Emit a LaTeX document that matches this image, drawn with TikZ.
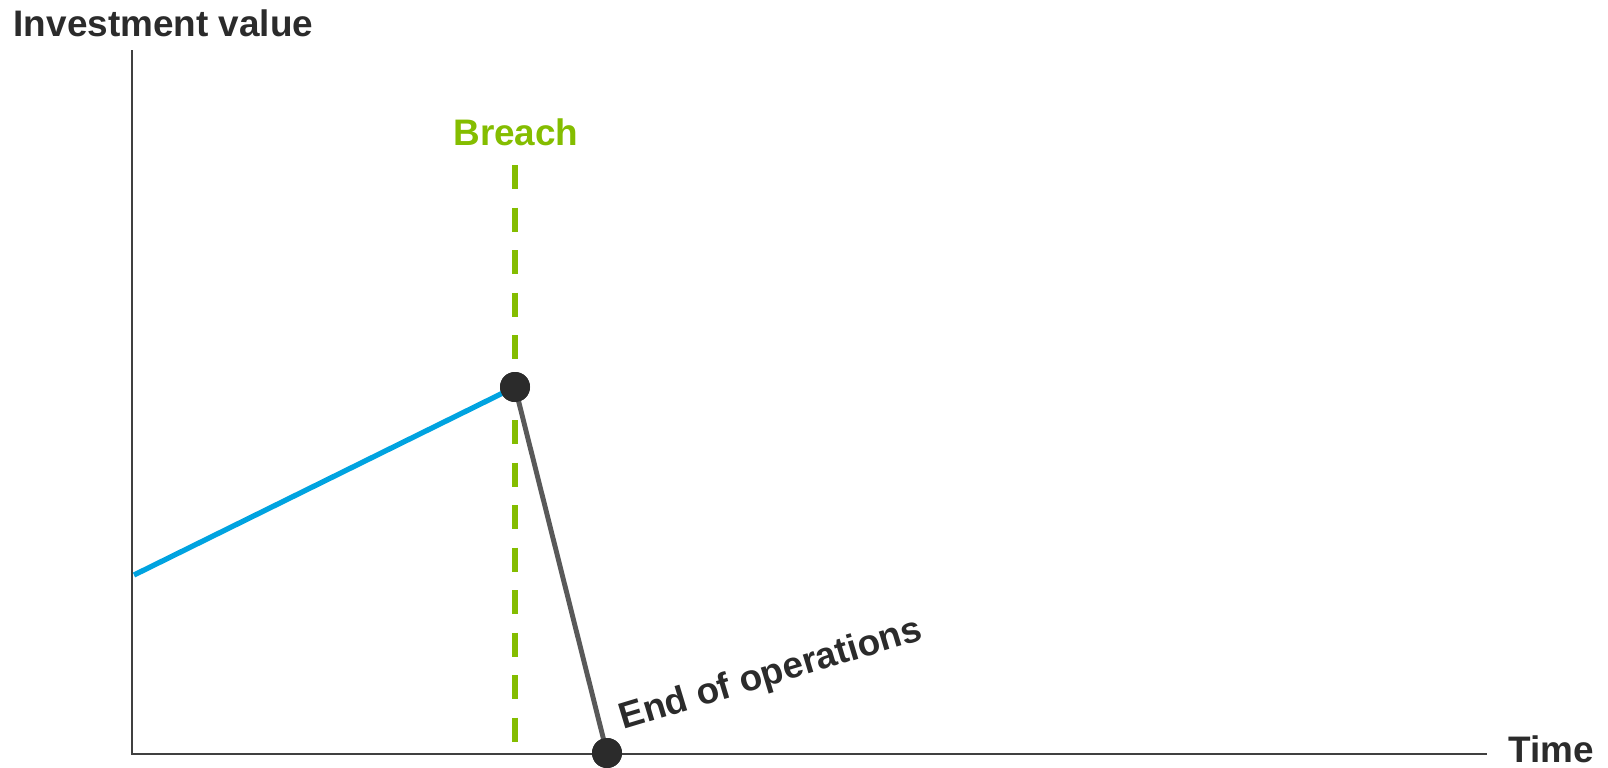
\documentclass[tikz,border=0pt]{standalone}
\usepackage{fontspec}
\setmainfont{Liberation Sans}
\definecolor{breachgreen}{HTML}{84BD00}
\definecolor{valueblue}{HTML}{00A3E0}
\definecolor{axisgray}{HTML}{404040}
\definecolor{dropgray}{HTML}{595959}
\definecolor{dotgray}{HTML}{2B2B2B}
\begin{document}
\begin{tikzpicture}[
    label/.style={font=\fontsize{10.5}{12}\selectfont\bfseries, text=dotgray, inner sep=0pt},
    dot/.style={circle, fill=dotgray, minimum size=0.3cm, inner sep=0pt},
    axis/.style={draw=axisgray, line width=0.6pt}]
    \useasboundingbox (0,0) rectangle (16.08,7.67);

    % 坐标轴
    \coordinate (O) at (1.32, 0.13);
    \coordinate (ytop) at (1.32, 7.17);
    \coordinate (xend) at (14.87, 0.13);
    \draw[axis] (ytop) -- (O) -- (xend);
    \node[label, anchor=base west] (ylabel) at (0.13, 7.31) {Investment value};
    \node[label, anchor=base west] (xlabel) at (15.08, 0.05) {Time};

    % 泄露时刻
    \coordinate (btop) at (5.15, 6.02);
    \coordinate (bbot) at (5.15, 0.25);
    \draw[breachgreen, line width=1.7pt, dash pattern=on 0.24cm off 0.185cm] (btop) -- (bbot);
    \node[label, text=breachgreen, anchor=base] (breachlabel) at (5.16, 6.22) {Breach};

    % 价值曲线
    \node[dot] (breach) at (5.15, 3.80) {};
    \node[dot] (end) at (6.07, 0.14) {};
    \coordinate (start) at (1.34, 1.92);
    \draw[valueblue, line width=1.5pt] (start) -- (breach.center);
    \draw[dropgray, line width=1.4pt] (breach.center) -- (end.center);
    \node[dot] at (breach) {};
    \node[dot] at (end) {};

    % 标注
    \node[label, rotate=16.8, anchor=base west] (endlabel) at (6.23, 0.37) {End of operations};

\end{tikzpicture}
\end{document}
